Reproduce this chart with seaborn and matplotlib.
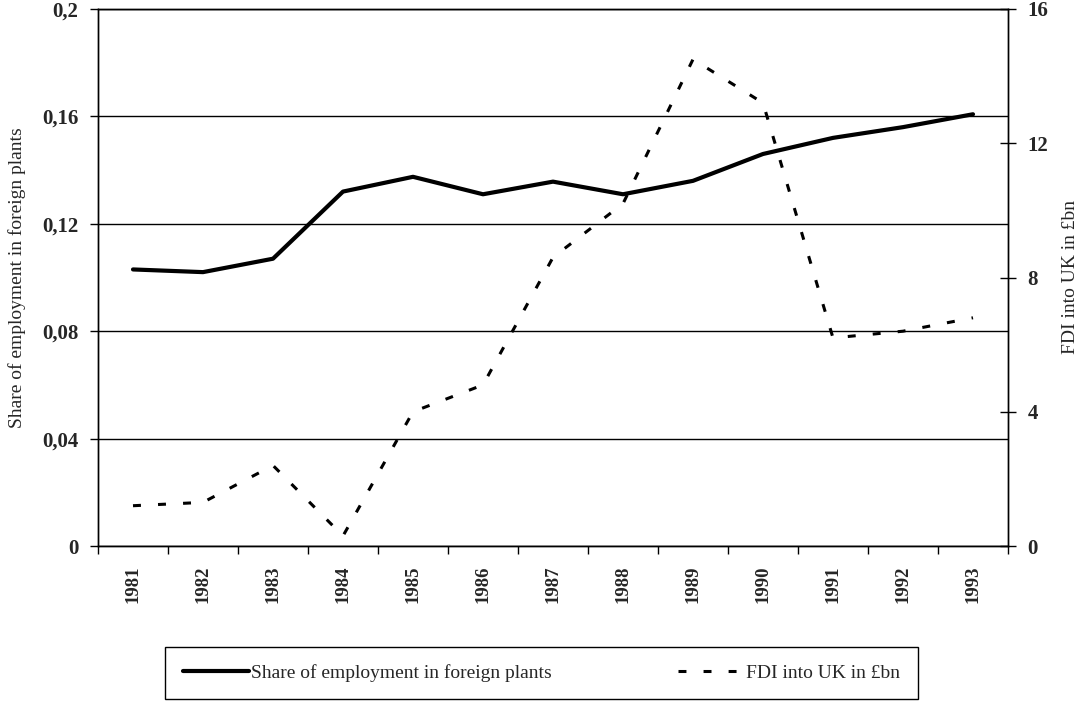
import numpy as np
import pandas as pd
import matplotlib
matplotlib.use('Agg')
from matplotlib import pyplot as plt
from matplotlib.ticker import FuncFormatter
import seaborn as sns

years = ['1981', '1982', '1983', '1984', '1985', '1986', '1987',
         '1988', '1989', '1990', '1991', '1992', '1993']
share = [0.103, 0.102, 0.107, 0.132, 0.1375, 0.131, 0.1357,
         0.131, 0.136, 0.146, 0.152, 0.156, 0.1608]
fdi = [1.2, 1.3, 2.4, 0.3, 4.0, 4.8, 8.6, 10.2, 14.5, 13.2, 6.2, 6.4, 6.8]
left_ticks = [0, 0.04, 0.08, 0.12, 0.16, 0.2]
right_ticks = [0, 4, 8, 12, 16]

df = pd.DataFrame({'pos': np.arange(len(years)), 'share': share, 'fdi': fdi})

sns.set_style("white")
plt.rcParams['font.family'] = ['Liberation Serif', 'DejaVu Serif']

fig = plt.figure(figsize=(10.83, 7.02), dpi=100)
ax = fig.add_axes([98 / 1083, 1 - 546 / 702, 910 / 1083, 537 / 702])
ax2 = ax.twinx()

sns.lineplot(data=df, x='pos', y='share', ax=ax, color='black', linewidth=3,
             label='Share of employment in foreign plants', legend=False)
sns.lineplot(data=df, x='pos', y='fdi', ax=ax2, color='black', linewidth=2.2,
             label='FDI into UK in \u00a3bn', legend=False)
ax2.lines[0].set_dashes((2.6, 5.6))

ax.set_xlim(-0.5, len(years) - 0.5)
ax.set_ylim(0, 0.2)
ax2.set_ylim(0, 16)

# gridlines at the left axis ticks
ax.set_yticks(left_ticks)
ax.yaxis.set_major_formatter(FuncFormatter(lambda v, p: f"{v:g}".replace('.', ',')))
ax.grid(axis='y', color='black', linewidth=1)
ax.grid(axis='x', visible=False)
ax2.grid(False)
ax2.set_yticks(right_ticks)

# x ticks on category boundaries, labels in the middle
ax.set_xticks(np.arange(-0.5, len(years)), labels=[''] * (len(years) + 1))
ax.set_xticks(np.arange(len(years)), labels=years, minor=True)
ax.tick_params(axis='x', which='major', direction='out', length=6, width=1,
               color='black', bottom=True)
ax.tick_params(axis='x', which='minor', length=0, pad=14, labelsize=13.5,
               rotation=90)
for t in ax.get_xticklabels(minor=True):
    t.set_fontweight('bold')

ax.tick_params(axis='y', direction='out', length=6, width=1, color='black',
               left=True, labelsize=15, pad=8)
ax2.tick_params(axis='y', direction='inout', length=12, width=1, color='black',
                right=True, labelsize=15, pad=8)
for t in ax.get_yticklabels() + ax2.get_yticklabels():
    t.set_fontweight('bold')

for a in (ax, ax2):
    for s in a.spines.values():
        s.set_color('black')
        s.set_linewidth(1)
ax.spines['top'].set_visible(True)

ax.set_xlabel('')
ax.set_ylabel('Share of employment in foreign plants', fontsize=14, labelpad=12)
ax2.set_ylabel('FDI into UK in \u00a3bn', fontsize=14, labelpad=10, rotation=90)

handles = ax.get_lines()[:1] + ax2.get_lines()[:1]
leg = fig.legend(handles, [h.get_label() for h in handles],
                 loc='center', bbox_to_anchor=(165 / 1083, 1 - 698 / 702, 753 / 1083, 50 / 702),
                 mode='expand', ncol=2, fontsize=14, frameon=True, fancybox=False,
                 framealpha=1, edgecolor='black', handlelength=3.4,
                 handletextpad=0.1, borderpad=0.9, borderaxespad=0)
leg.get_frame().set_linewidth(1)

fig.savefig('out.png', dpi=100)
